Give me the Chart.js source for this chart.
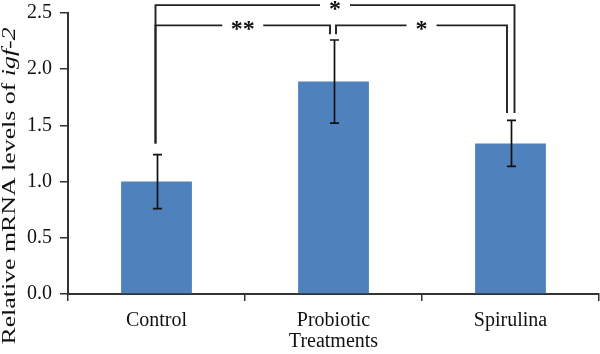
<!DOCTYPE html>
<html>
<head>
<meta charset="utf-8">
<script src="https://cdn.jsdelivr.net/npm/chart.js@4/dist/chart.umd.min.js"></script>
<style>
  html,body{margin:0;padding:0;background:#fff;}
  #wrap{width:600px;height:354px;}
</style>
</head>
<body>
<div id="wrap"><canvas id="chart" width="600" height="354"></canvas></div>
<script>
const categories = ["Control","Probiotic","Spirulina"];
const meanValues = [1.00, 1.89, 1.34];
const errorValues = [0.24, 0.37, 0.205];
const yTicks = [0, 0.5, 1.0, 1.5, 2.0, 2.5];

// significance brackets (category index pairs, level of the bar, where each leg stops, star label)
const bracketFrom = [0, 0, 1];
const bracketTo = [2, 1, 2];
const bracketLevel = [2.57, 2.39, 2.39];
const bracketLeftEnd = [1.34, 1.34, 2.31];
const bracketRightEnd = [1.61, 2.31, 1.61];
const bracketLabels = ["*", "**", "*"];

// drawing style for the brackets
const bracketLeftShift = [-1, -1, 2.5];
const bracketRightShift = [4, -3.5, -3.5];
const bracketGap = [30, 41, 30];

const FONT = "Liberation Serif";
const INK = "#111";

const annotatePlugin = {
  id:"annotate",
  afterDatasetsDraw(chart){
    const ctx = chart.ctx;
    const xs = chart.scales.x;
    const ys = chart.scales.y;

    ctx.save();
    ctx.strokeStyle = INK;
    ctx.lineWidth = 1.7;

    // error bars
    meanValues.forEach((value,i) => {
      const cx = Math.round(xs.getPixelForValue(i)) + 0.5;
      const top = ys.getPixelForValue(value + errorValues[i]);
      const bottom = ys.getPixelForValue(value - errorValues[i]);
      ctx.beginPath();
      ctx.moveTo(cx, top);
      ctx.lineTo(cx, bottom);
      ctx.moveTo(cx - 4.5, top);
      ctx.lineTo(cx + 4.5, top);
      ctx.moveTo(cx - 4.5, bottom);
      ctx.lineTo(cx + 4.5, bottom);
      ctx.stroke();
    });

    // brackets
    ctx.lineWidth = 1.9;
    ctx.strokeStyle = "#222";
    ctx.font = "bold 24px " + FONT;
    ctx.fillStyle = INK;
    ctx.textAlign = "center";
    ctx.textBaseline = "alphabetic";

    bracketLabels.forEach((label,i) => {
      const left = xs.getPixelForValue(bracketFrom[i]) + bracketLeftShift[i];
      const right = xs.getPixelForValue(bracketTo[i]) + bracketRightShift[i];
      const level = ys.getPixelForValue(bracketLevel[i]);
      const leftEnd = ys.getPixelForValue(bracketLeftEnd[i]);
      const rightEnd = ys.getPixelForValue(bracketRightEnd[i]);
      const mid = (left + right) / 2;
      const half = bracketGap[i] / 2;

      ctx.beginPath();
      ctx.moveTo(left, leftEnd);
      ctx.lineTo(left, level);
      ctx.lineTo(mid - half, level);
      ctx.moveTo(mid + half, level);
      ctx.lineTo(right, level);
      ctx.lineTo(right, rightEnd);
      ctx.stroke();

      const m = ctx.measureText(label);
      const shift = (m.actualBoundingBoxAscent - m.actualBoundingBoxDescent) / 2;
      ctx.fillText(label, mid, level + shift);
    });

    ctx.restore();
  },
  afterDraw(chart){
    // y axis title with italic gene name
    const ctx = chart.ctx;
    const plain = "Relative mRNA levels of ";
    const gene = "igf-2";

    ctx.save();
    ctx.fillStyle = INK;
    ctx.textBaseline = "alphabetic";
    ctx.translate(15, 186);
    ctx.rotate(-Math.PI / 2);
    ctx.scale(1.36, 1);

    ctx.font = "19px " + FONT;
    const w1 = ctx.measureText(plain).width;
    ctx.font = "italic 19px " + FONT;
    const w2 = ctx.measureText(gene).width;
    const start = -(w1 + w2) / 2;

    ctx.font = "19px " + FONT;
    ctx.fillText(plain, start, 0);
    ctx.font = "italic 19px " + FONT;
    ctx.fillText(gene, start + w1, 0);
    ctx.restore();
  }
};

new Chart(document.getElementById("chart"),{
  type:"bar",
  data:{
    labels:categories,
    datasets:[{
      data:meanValues,
      backgroundColor:"#4F81BD",
      borderWidth:0,
      barPercentage:0.4,
      categoryPercentage:1.0
    }]
  },
  options:{
    responsive:false,
    animation:false,
    events:[],
    layout:{ padding:{ top:13, right:1, left:0, bottom:0 } },
    plugins:{
      legend:{ display:false },
      tooltip:{ enabled:false }
    },
    scales:{
      x:{
        grid:{ drawOnChartArea:false, drawTicks:true, tickLength:7, color:"#333", lineWidth:1.5, offset:true },
        border:{ color:"#333", width:2 },
        ticks:{ padding:8, color:INK, font:{ family:FONT, size:20 } },
        title:{ display:true, text:"Treatments", color:INK, font:{ family:FONT, size:20 }, padding:{ top:0, bottom:0 } },
        afterFit(scale){ scale.height = 60; scale.paddingLeft = 0; scale.paddingRight = 0; }
      },
      y:{
        min:0,
        max:2.5,
        afterBuildTicks(scale){ scale.ticks = yTicks.map(v => ({ value:v })); },
        grid:{ drawOnChartArea:false, drawTicks:true, tickLength:8, color:"#333", lineWidth:1.5 },
        border:{ color:"#333", width:2 },
        ticks:{
          padding:8,
          color:INK,
          font:{ family:FONT, size:20 },
          callback:v => Number(v).toFixed(1)
        },
        afterFit(scale){ scale.width = 68; scale.paddingTop = 0; scale.paddingBottom = 0; }
      }
    }
  },
  plugins:[annotatePlugin]
});
</script>
</body>
</html>
